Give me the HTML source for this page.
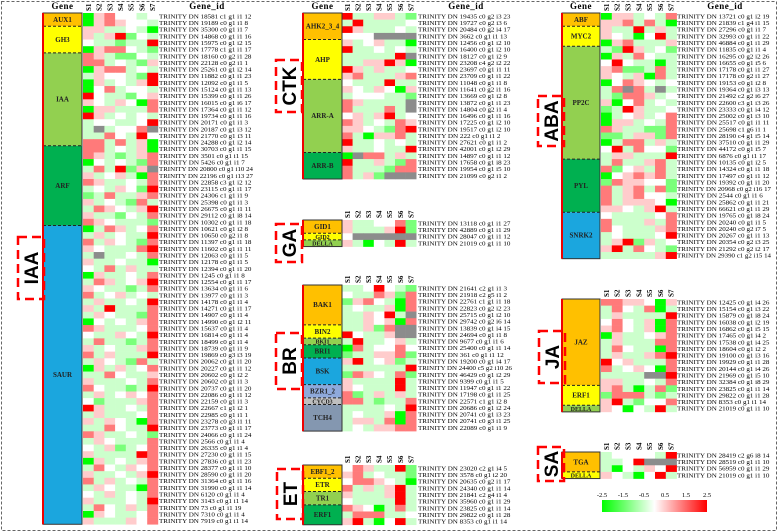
<!DOCTYPE html>
<html><head><meta charset="utf-8">
<style>
html,body{margin:0;padding:0;background:#fff;}
svg{display:block;font-family:"Liberation Serif",serif;}
</style></head>
<body>
<svg id="fig" width="778" height="532" viewBox="0 0 778 532" xmlns="http://www.w3.org/2000/svg">
<rect x="1.5" y="1.5" width="775" height="529" fill="none" stroke="#666" stroke-width="1" stroke-dasharray="3,2"/>
<g id="layer"></g>
</svg>
<script>
// value level codes: G=-2.5, g=-1.3, l=-0.5, o=0, p=0.5, r=1.3, R=2.5, x=NA
const levelCodes = {G:-2.5,g:-1.3,l:-0.5,o:0,p:0.5,r:1.3,R:2.5,x:null};
const sampleLabels = ["S1","S2","S3","S4","S5","S6","S7"];
const colorbarTicks = [-2.5,-1.5,-0.5,0.5,1.5,2.5];

const iaaIds = ["18581 c1 g1 i1 12","19189 c0 g1 i1 8","35300 c0 g1 i1 7","14868 c0 g1 i1 16","15975 c0 g1 i2 15","17778 c1 g1 i1 17","18160 c0 g2 i1 28","22128 c0 g2 i1 1","25261 c0 g1 i2 14","11882 c0 g1 i1 23","12092 c0 g1 i1 5","15124 c0 g1 i1 13","15399 c0 g1 i1 26","16015 c0 g1 i6 17","17364 c0 g1 i1 12","19734 c0 g1 i1 16","20171 c0 g1 i1 3","20187 c0 g1 i3 12","21770 c0 g1 i3 11","24288 c0 g1 i2 14","30703 c0 g1 i1 15","3501 c0 g1 i1 15","5426 c0 g1 i1 7","20800 c0 g1 i10 24","22196 c0 g1 i13 27","22858 c3 g1 i2 12","23115 c0 g1 i1 17","24306 c1 g1 i1 9","25398 c0 g1 i1 3","26675 c0 g1 i1 11","29112 c0 g1 i8 14","10302 c0 g1 i1 18","10621 c0 g1 i2 8","10650 c0 g2 i1 8","11397 c0 g1 i1 18","11602 c0 g1 i1 11","12063 c0 g1 i1 5","12178 c0 g1 i1 5","12394 c0 g1 i1 20","1245 c0 g1 i1 8","12554 c0 g1 i1 17","13634 c0 g1 i1 6","13977 c0 g1 i1 3","14178 c0 g1 i1 4","14271 c0 g1 i1 17","14907 c0 g1 i1 4","14990 c0 g1 i2 11","15637 c0 g1 i1 4","16814 c0 g1 i1 4","18499 c0 g1 i1 4","18739 c0 g1 i1 9","19869 c0 g3 i3 19","20062 c0 g1 i1 20","20227 c0 g1 i1 12","20602 c0 g1 i2 2","20602 c0 g1 i1 3","20737 c0 g1 i1 20","22086 c0 g1 i1 12","22159 c0 g1 i1 3","22667 c1 g1 i2 1","22985 c0 g1 i1 1","23278 c0 g3 i1 11","23773 c0 g1 i1 17","24066 c0 g1 i1 24","2566 c0 g1 i1 4","26335 c0 g1 i1 4","27230 c0 g1 i1 15","27836 c0 g1 i1 23","28377 c0 g1 i1 10","28590 c0 g1 i1 20","31364 c0 g1 i1 16","31990 c0 g1 i1 14","6120 c0 g1 i1 4","3143 c0 g1 i1 14","73 c0 g1 i1 19","7310 c0 g1 i1 4","7919 c0 g1 i1 14"];
const iaaValues = ["Gproolo","Gprpool","ppllolG","plpRgol","ollgllR","Gprrolg","rplggol","rrlolgp","Gprrlol","lpoolgR","GplolpR","Gorlool","Rollgop","polpoGr","Gpplllr","Rplolol","loolloR","lxloorx","llrolRo","rrlrlpG","rrlolpG","rplglpr","Gololgr","lrlRgpx","ploplGr","rpllolr","lolpogR","glrllpr","plolgrl","lrpolpR","pllgolr","rpolllg","Glrplor","lplollR","rlpolgr","polllrR","lxllolr","pllollG","olrlpll","Gpllolr","lrplopR","pollglr","rloplol","lpllolR","plRlllr","lpollgr","Gololpr","rplllor","ollpolR","lrllglr","plollpr","rlplllR","lpolgrl","Gplplor","llrollp","plllolr","rollglR","lplopor","oglllpr","Rpllolr","lplllor","plpolGr","llrollR","rpllolg","lpolllr","olpglor","pllllRr","Gplolpr","lrolpor","pllolpR","rlplolr","lpollGr","olplolr","plllolR","lrolplr","Gpollor","plllpor"];

const ctkIds = ["19435 c0 g2 i3 23","19727 c0 g2 i3 6","20484 c0 g2 i4 17","3662 c0 g1 i1 13","12456 c0 g1 i2 10","16400 c0 g1 i2 10","18127 c0 g1 i2 9","23208 c4 g2 i2 22","23697 c0 g1 i1 11","23709 c0 g1 i1 22","11048 c0 g1 i1 8","11641 c0 g2 i1 16","13669 c0 g1 i2 8","13872 c0 g1 i1 23","14804 c0 g2 i1 4","16496 c0 g1 i1 16","17225 c0 g1 i2 10","19517 c0 g1 i2 10","222 c0 g1 i1 2","27621 c0 g1 i1 2","42001 c0 g1 i2 29","14897 c0 g1 i1 12","17658 c0 g1 i8 23","19954 c0 g1 i5 10","21099 c0 g2 i1 2"];
const ctkValues = ["Rllpplg","lRllllo","Rplllol","oooxxxx","plopllG","Rllolol","lllllRx","llppRpG","Rplpllo","prlllpr","olllRll","polpoGp","looollg","rpllllx","rlllrlx","oplpRlo","rplolrp","ppolgrR","rlGpprl","Rllolol","pllollR","Gxrrlpl","Rllplgr","rlllgrr","rlpgxxx"];

const gaIds = ["13118 c0 g1 i1 27","42889 c0 g1 i1 29","28047 c0 g1 i1 12","21019 c0 g1 i1 10"];
const gaValues = ["plloorg","plllpRg","oxxxxxx","plGolRl"];

const brIds = ["21641 c2 g1 i1 3","21918 c2 g5 i1 2","22761 c1 g1 i1 18","22823 c0 g2 i2 23","25715 c0 g1 i2 10","29742 c0 g2 i6 14","13839 c0 g1 i4 15","24694 c0 g1 i1 8","9677 c0 g1 i1 6","25400 c0 g1 i1 14","361 c0 g1 i1 12","19200 c0 g1 i4 17","24400 c5 g2 i10 26","46429 c0 g1 i2 29","9399 c0 g1 i1 5","11947 c0 g1 i1 22","17198 c0 g1 i1 25","22571 c1 g1 i2 8","20686 c0 g1 i2 24","20741 c0 g1 i3 23","20741 c0 g3 i1 25","22089 c0 g1 i1 9"];
const brValues = ["lloRolg","ollrpgr","gprolGr","lollpGr","llpoRlx","llpopGr","llpgrxx","Rollpxx","lRllopl","Grlooro","gllpprg","pRlopgl","llllllR","grpolrg","pllllRl","polllRl","rglplpl","rrlgllr","llllolR","lollpGr","lpplrGr","lolpprr"];

const etIds = ["23020 c2 g1 i4 5","3578 c0 g1 i2 20","20635 c0 g2 i1 17","24340 c0 g1 i1 14","21841 c2 g4 i1 4","35960 c0 g1 i1 29","23825 c0 g1 i1 14","29822 c0 g1 i1 28","8353 c0 g1 i1 14"];
const etValues = ["orpllRg","prlollg","orrpolG","rlplpRl","plllpRl","ollllRl","rpoGlrl","lrrrllo","pRlGoRl"];

const abaIds = ["13721 c0 g1 i2 19","21839 c1 g4 i1 15","27296 c0 g1 i1 7","32993 c0 g1 i1 22","46884 c0 g1 i1 29","11835 c0 g1 i1 4","16295 c0 g2 i2 26","16655 c0 g1 i5 6","17178 c0 g1 i1 27","17178 c0 g2 i1 27","19153 c0 g1 i2 8","19364 c0 g1 i3 13","21492 c2 g2 i6 27","22600 c3 g1 i3 26","23333 c0 g1 i4 12","25002 c0 g1 i3 10","25517 c0 g1 i1 11","25698 c1 g6 i1 1","28190 c4 g1 i5 14","37510 c0 g1 i1 29","44172 c0 g1 i5 7","6876 c0 g1 i1 17","10135 c0 g1 i2 5","14324 c0 g1 i1 18","17497 c0 g1 i1 12","19392 c0 g1 i1 20","20968 c0 g2 i16 17","2544 c0 g1 i1 6","25862 c0 g1 i1 21","66621 c0 g1 i1 29","19765 c0 g1 i8 24","20240 c0 g1 i1 5","20240 c0 g2 i7 5","20267 c0 g1 i1 13","20354 c0 g2 i3 25","21292 c0 g2 i2 17","29390 c1 g2 i15 14"];
const abaValues = ["Gpplolr","pprlrlG","pllRlpl","polGoRl","Gprlllp","lgRplog","Gplroll","oRollGl","prgglrl","polpGrl","Gorpolo","lrxrlxl","lgrrplo","pGorlol","glRpllo","Gloplor","Gpplolr","rpllggr","gglppgr","Glrrlpl","oRlroog","lpplllR","lrllprl","rgoplrl","Goprprl","grppoog","rlprlrg","rlprool","rlpppoG","ppolpRl","ollllor","rlllplr","rolllpr","lollloR","lpRgplo","pRlrolg","lllllpR"];

const jaIds = ["12425 c0 g1 i4 26","15154 c0 g1 i3 22","15879 c0 g1 i8 24","16038 c0 g1 i2 19","16862 c0 g1 i5 15","17465 c0 g1 i4 2","17538 c0 g1 i4 25","18604 c0 g1 i2 2","19100 c0 g1 i3 16","19929 c0 g1 i1 28","20144 c0 g1 i4 26","21969 c0 g1 i5 10","32384 c0 g1 i8 29","23825 c0 g1 i1 14","29822 c0 g1 i1 28","8353 c0 g1 i1 14","21019 c0 g1 i1 10"];
const jaValues = ["rrppoGp","lrolrGl","lpllllR","orolpGr","prolpGr","Gpllopr","lplllrr","lrollGr","lpllprR","Roplllr","rlopoGr","llllxxR","ppllolr","prlGlrg","grrrlgl","pRlgoor","poGolRl"];

const saIds = ["28419 c2 g6 i8 14","28519 c0 g1 i1 10","56959 c0 g1 i1 29","21019 c0 g1 i1 10"];
const saValues = ["loooolR","lloRxxx","lGolpoR","polGoRl"];

const NS = "http://www.w3.org/2000/svg";
const layer = document.getElementById('layer');
function mk(tag, attrs, parent){
  const e = document.createElementNS(NS, tag);
  for (const k in attrs) e.setAttribute(k, attrs[k]);
  (parent||layer).appendChild(e);
  return e;
}
function colorFor(v){
  if (v === null) return '#8c8c8c';
  const t = Math.min(1, Math.abs(v)/2.5);
  const c = Math.round(255*(1-t));
  return v < 0 ? `rgb(${c},255,${c})` : `rgb(255,${c},${c})`;
}
const C = {orange:'#FFC000',yellow:'#FFFF00',lg:'#92D050',g:'#00B050',blue:'#1BA6DE',lb:'#8EA9DB',gray:'#BFBFBF',steel:'#8497B0'};

function panel(p){
  const g = mk('g', {});
  
  
  const rh = p.rh, n = p.values.length;
  const xCol = i => p.hx + i*p.cw;
  const yRow = r => p.top + r*rh;
  // headers
  sampleLabels.forEach((s,i)=>{
    const t = mk('text', {x:0,y:0,'font-size':7,'font-weight':'bold',transform:`translate(${xCol(i)+p.cw/2+2.5},${p.top-2}) rotate(-90)`}, g);
    
    
    t.textContent = s;
  });
  if (p.full){
    const t1 = mk('text', {x:p.gx+p.gw/2,y:p.top-4,'font-size':9,'font-weight':'bold','text-anchor':'middle','letter-spacing':'0.5'}, g);
    
    
    t1.textContent = 'Gene';
    const t2 = mk('text', {x:p.tx+48,y:p.top-4,'font-size':9,'font-weight':'bold','text-anchor':'middle','letter-spacing':'0.5'}, g);
    
    
    t2.textContent = 'Gene_id';
  }
  // cells
  p.values.forEach((row,r)=>{
    row.split('').forEach((ch,i)=>{
      const v = levelCodes[ch];
      const c = mk('rect', {x:xCol(i), y:yRow(r), width:p.cw+0.3, height:rh+0.3, fill:colorFor(v)}, g);
      
      
    });
    const t = mk('text', {x:p.tx, y:yRow(r)+rh-1.2, 'font-size':6.3, 'textLength':p.tw, 'lengthAdjust':'spacingAndGlyphs'}, g);
    
    
    t.textContent = 'TRINITY DN ' + p.ids[r];
    t.setAttribute('textLength', Math.min(p.tw, 3.3*t.textContent.length));
  });
  // gene groups
  p.groups.forEach((gr,k)=>{
    const y0 = yRow(gr[1]), h = gr[2]*rh;
    const b = mk('rect', {x:p.gx, y:y0, width:p.gw, height:h, fill:gr[3]}, g);
    
    
    if (k>0) mk('line', {x1:p.gx, x2:p.gx+p.gw, y1:y0, y2:y0, stroke:'#222','stroke-width':1,'stroke-dasharray':'3,2'}, g);
    const fs = h < 8 ? 6 : 7;
    const t = mk('text', {x:p.gx+p.gw/2, y:y0+h/2+2.3, 'font-size':fs, 'text-anchor':'middle', 'font-weight':'bold', fill:'#222'}, g);
    
    
    t.textContent = gr[0];
  });
  mk('rect', {x:p.gx, y:p.top, width:p.gw, height:n*rh, fill:'none', stroke:'#333','stroke-width':1}, g);
  mk('line', {x1:p.gx, x2:p.gx, y1:p.top, y2:p.top+n*rh, stroke:'#e00','stroke-width':2}, g);
  // title
  const tb = p.title;
  const r = mk('rect', {x:tb[1], y:tb[2], width:tb[3], height:tb[4], fill:'none', stroke:'#f00','stroke-width':2.5,'stroke-dasharray':'9,5'}, g);
  
  
  const tt = mk('text', {x:0,y:0,'font-size':19,'font-weight':'bold','font-family':'Liberation Sans, sans-serif','text-anchor':'middle',transform:`translate(${tb[1]+tb[3]/2+7},${tb[2]+tb[4]/2}) rotate(-90)`}, g);
  
  
  tt.textContent = tb[0];
}

const RH = 6.64;
panel({name:'iaa',full:true,gx:43,gw:39,hx:83,cw:10.7,tx:159,tw:94,top:13,rh:RH,ids:iaaIds,values:iaaValues,
  groups:[['AUX1',0,2,C.orange],['GH3',2,4,C.yellow],['IAA',6,14,C.lg],['ARF',20,12,C.g],['SAUR',32,45,C.blue]],
  title:['IAA',18,237,26,62]});
panel({name:'ctk',full:true,gx:303,gw:39,hx:342,cw:10.6,tx:418,tw:94,top:13,rh:RH,ids:ctkIds,values:ctkValues,
  groups:[['AHK2_3_4',0,4,C.orange],['AHP',4,6,C.yellow],['ARR-A',10,11,C.lg],['ARR-B',21,4,C.g]],
  title:['CTK',276,60,26,52]});
panel({name:'ga',full:false,gx:303,gw:39,hx:342,cw:10.6,tx:418,tw:94,top:220,rh:RH,ids:gaIds,values:gaValues,
  groups:[['GID1',0,2,C.orange],['GID2',2,1,C.yellow],['DELLA',3,1,C.lg]],
  title:['GA',276,224,26,38]});
panel({name:'br',full:false,gx:303,gw:39,hx:342,cw:10.6,tx:418,tw:94,top:285,rh:RH,ids:brIds,values:brValues,
  groups:[['BAK1',0,6,C.orange],['BIN2',6,2,C.yellow],['BKI1',8,1,C.lg],['BRI1',9,2,C.g],['BSK',11,4,C.blue],['BZR1_2',15,2,C.lb],['CYCD3',17,1,C.gray],['TCH4',18,4,C.steel]],
  title:['BR',276,333,26,56]});
panel({name:'et',full:false,gx:303,gw:39,hx:342,cw:10.6,tx:418,tw:94,top:465,rh:RH,ids:etIds,values:etValues,
  groups:[['EBF1_2',0,2,C.orange],['ETR',2,2,C.yellow],['TR1',4,2,C.lg],['ERF1',6,3,C.g]],
  title:['ET',277,469,26,50]});
panel({name:'aba',full:true,gx:562,gw:38,hx:601,cw:10.8,tx:677,tw:94,top:13,rh:RH,ids:abaIds,values:abaValues,
  groups:[['ABF',0,2,C.orange],['MYC2',2,3,C.yellow],['PP2C',5,17,C.lg],['PYL',22,8,C.g],['SNRK2',30,7,C.blue]],
  title:['ABA',538,96,26,50]});
panel({name:'ja',full:false,gx:562,gw:38,hx:601,cw:10.8,tx:677,tw:94,top:299,rh:RH,ids:jaIds,values:jaValues,
  groups:[['JAZ',0,13,C.orange],['ERF1',13,3,C.yellow],['DELLA',16,1,C.lg]],
  title:['JA',539,331,26,52]});
panel({name:'sa',full:false,gx:562,gw:38,hx:601,cw:10.8,tx:677,tw:94,top:452,rh:RH,ids:saIds,values:saValues,
  groups:[['TGA',0,3,C.orange],['DELLA',3,1,C.yellow]],
  title:['SA',538,447,26,34]});

// colorbar
const cb = mk('g', {});


const defs = mk('defs', {}, cb);
const lg = mk('linearGradient', {id:'cbg', x1:'0', x2:'1', y1:'0', y2:'0'}, defs);
mk('stop', {offset:'0', 'stop-color':'#00ff00'}, lg);
mk('stop', {offset:'0.5', 'stop-color':'#ffffff'}, lg);
mk('stop', {offset:'1', 'stop-color':'#ff0000'}, lg);
const cbX0 = 602, cbX1 = 707;
const cbScale = v => cbX0 + (v+2.5)/5*(cbX1-cbX0);
const bar = mk('rect', {x:cbX0, y:500, width:cbX1-cbX0, height:12, fill:'url(#cbg)'}, cb);


colorbarTicks.forEach(v=>{
  const t = mk('text', {x:cbScale(v), y:497, 'font-size':6.5, 'text-anchor':'middle'}, cb);
  
  
  t.textContent = v.toFixed(1);
});
</script>
</body></html>
